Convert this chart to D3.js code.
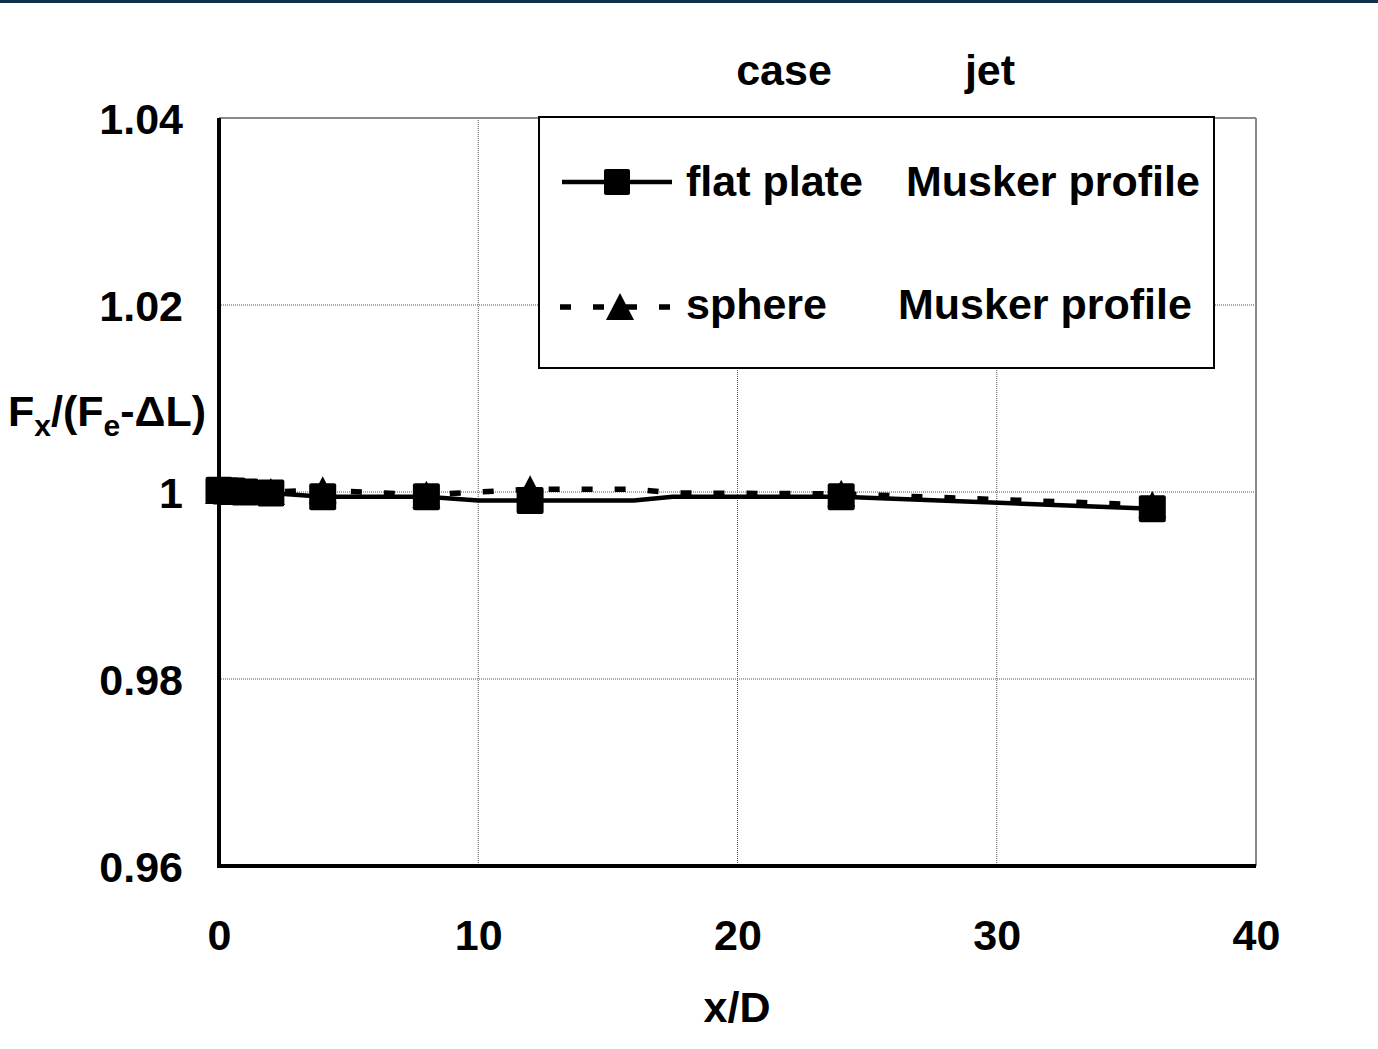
<!DOCTYPE html>
<html><head><meta charset="utf-8">
<script src="https://cdn.jsdelivr.net/npm/d3@7"></script>
<style>
html,body{margin:0;padding:0;background:#fff;}
text{font-family:"Liberation Sans",Arial,sans-serif;font-weight:bold;fill:#000;}
</style></head>
<body>
<svg id="c" width="1378" height="1049"></svg>
<script>
// ---- data ----
const xTicks = [0, 10, 20, 30, 40];
const yTicks = [0.96, 0.98, 1.00, 1.02, 1.04];
const yTickLabels = ["0.96", "0.98", "1", "1.02", "1.04"];
const flatX = [0, 0.25, 0.5, 1, 2, 4, 8, 10, 12, 16, 17.5, 24, 36];
const flatY = [1.0002, 1.0001, 1.0001, 1.0000, 0.9999, 0.9995, 0.9995, 0.9991, 0.9991, 0.9991, 0.9995, 0.9995, 0.9982];
const flatMarker = [1, 1, 1, 1, 1, 1, 1, 0, 1, 0, 0, 1, 1];
const sphereX = [0, 0.25, 0.5, 1, 2, 4, 8, 12, 16, 17.5, 24, 36];
const sphereY = [1.0001, 1.0001, 1.0000, 1.0000, 1.0000, 1.0002, 0.9997, 1.0003, 1.0003, 0.9999, 0.9998, 0.9986];
const sphereMarker = [1, 1, 1, 1, 1, 1, 1, 1, 0, 0, 1, 1];
const seriesNames = ["flat plate", "sphere"];
const jetNames = ["Musker profile", "Musker profile"];
const headerLabels = ["case", "jet"];

const FS = "43px";
const svg = d3.select("#c");
const L = 219, R = 1256, T = 118, B = 866;
const x = d3.scaleLinear().domain([0, 40]).range([L, R]);
const y = d3.scaleLinear().domain([0.96, 1.04]).range([B, T]);

// top dark bar
svg.append("rect").attr("x", 0).attr("y", 0).attr("width", 1378).attr("height", 3).attr("fill", "#13304c");

// grid
const g = svg.append("g");
g.selectAll("line.vg").data(xTicks.slice(1, -1)).join("line")
  .attr("x1", d => x(d)).attr("x2", d => x(d)).attr("y1", T).attr("y2", B)
  .attr("stroke", "#555").attr("stroke-width", 1).attr("stroke-dasharray", "1,1");
g.selectAll("line.hg").data(yTicks.slice(1, -1)).join("line")
  .attr("y1", d => y(d)).attr("y2", d => y(d)).attr("x1", L).attr("x2", R)
  .attr("stroke", "#555").attr("stroke-width", 1).attr("stroke-dasharray", "1,1");

// top / right border (grey)
svg.append("line").attr("x1", L).attr("x2", R).attr("y1", T).attr("y2", T).attr("stroke", "#8a8a8a").attr("stroke-width", 2);
svg.append("line").attr("x1", R).attr("x2", R).attr("y1", T).attr("y2", B).attr("stroke", "#8a8a8a").attr("stroke-width", 2);

// axes
const ax = svg.append("g").attr("transform", `translate(0,${B})`)
  .call(d3.axisBottom(x).tickValues(xTicks).tickSize(0).tickPadding(0).tickFormat(d3.format("d")));
ax.select(".domain").remove();
ax.selectAll("text").attr("y", 84).attr("dy", null).style("font-size", FS)
  .style("font-family", "Liberation Sans, Arial, sans-serif").style("font-weight", "bold").attr("fill", "#000");

const ay = svg.append("g").attr("transform", `translate(${L},0)`)
  .call(d3.axisLeft(y).tickValues(yTicks).tickSize(0).tickPadding(0).tickFormat((d, i) => yTickLabels[i]));
ay.select(".domain").remove();
ay.selectAll("text").attr("x", -36).attr("dy", "0.36em").style("font-size", FS)
  .style("font-family", "Liberation Sans, Arial, sans-serif").style("font-weight", "bold").attr("fill", "#000");

// black axis lines
svg.append("line").attr("x1", L).attr("x2", L).attr("y1", T).attr("y2", B + 2).attr("stroke", "#000").attr("stroke-width", 4);
svg.append("line").attr("x1", L - 2).attr("x2", R).attr("y1", B).attr("y2", B).attr("stroke", "#000").attr("stroke-width", 4);

// series
const flat = flatX.map((d, i) => ({ x: d, y: flatY[i], m: flatMarker[i] }));
const sph = sphereX.map((d, i) => ({ x: d, y: sphereY[i], m: sphereMarker[i] }));
const line = d3.line().x(d => x(d.x)).y(d => y(d.y));

svg.append("path").datum(sph).attr("d", line).attr("fill", "none").attr("stroke", "#000")
  .attr("stroke-width", 5.5).attr("stroke-dasharray", "11,22");
svg.append("path").datum(flat).attr("d", line).attr("fill", "none").attr("stroke", "#000")
  .attr("stroke-width", 4.5);

svg.selectAll("path.tri").data(sph.filter(d => d.m)).join("path")
  .attr("d", "M0,-14L14,13L-14,13Z")
  .attr("transform", d => `translate(${x(d.x)},${y(d.y)})`).attr("fill", "#000");
svg.selectAll("rect.sq").data(flat.filter(d => d.m)).join("rect")
  .attr("x", d => x(d.x) - 13.5).attr("y", d => y(d.y) - 13.5).attr("width", 27).attr("height", 27)
  .attr("rx", 2).attr("fill", "#000");

// legend
svg.append("rect").attr("x", 539).attr("y", 117).attr("width", 675).attr("height", 251)
  .attr("fill", "#fff").attr("stroke", "#000").attr("stroke-width", 2);
// row 1
svg.append("line").attr("x1", 562).attr("x2", 672).attr("y1", 182).attr("y2", 182).attr("stroke", "#000").attr("stroke-width", 4.5);
svg.append("rect").attr("x", 604).attr("y", 169).attr("width", 26).attr("height", 26).attr("rx", 2).attr("fill", "#000");
// row 2
svg.append("line").attr("x1", 560).attr("x2", 680).attr("y1", 307).attr("y2", 307).attr("stroke", "#000").attr("stroke-width", 5.5).attr("stroke-dasharray", "11,22");
svg.append("path").attr("d", "M0,-14L14,13L-14,13Z").attr("transform", "translate(620,307)").attr("fill", "#000");

const txt = (t, xx, yy, anchor) => svg.append("text").attr("x", xx).attr("y", yy)
  .attr("text-anchor", anchor || "start").style("font-size", FS).text(t);
txt(seriesNames[0], 686, 196);
txt(jetNames[0], 906, 196);
txt(seriesNames[1], 686, 319);
txt(jetNames[1], 898, 319);
txt(headerLabels[0], 784, 85, "middle");
txt(headerLabels[1], 990, 85, "middle");

// axis titles
txt("x/D", 737, 1022, "middle");
const yl = svg.append("text").attr("x", 8).attr("y", 426).style("font-size", FS);
yl.append("tspan").text("F");
yl.append("tspan").attr("dy", 10).style("font-size", "30px").text("x");
yl.append("tspan").attr("dy", -10).text("/(F");
yl.append("tspan").attr("dy", 10).style("font-size", "30px").text("e");
yl.append("tspan").attr("dy", -10).text("-ΔL)");
</script>
</body></html>
